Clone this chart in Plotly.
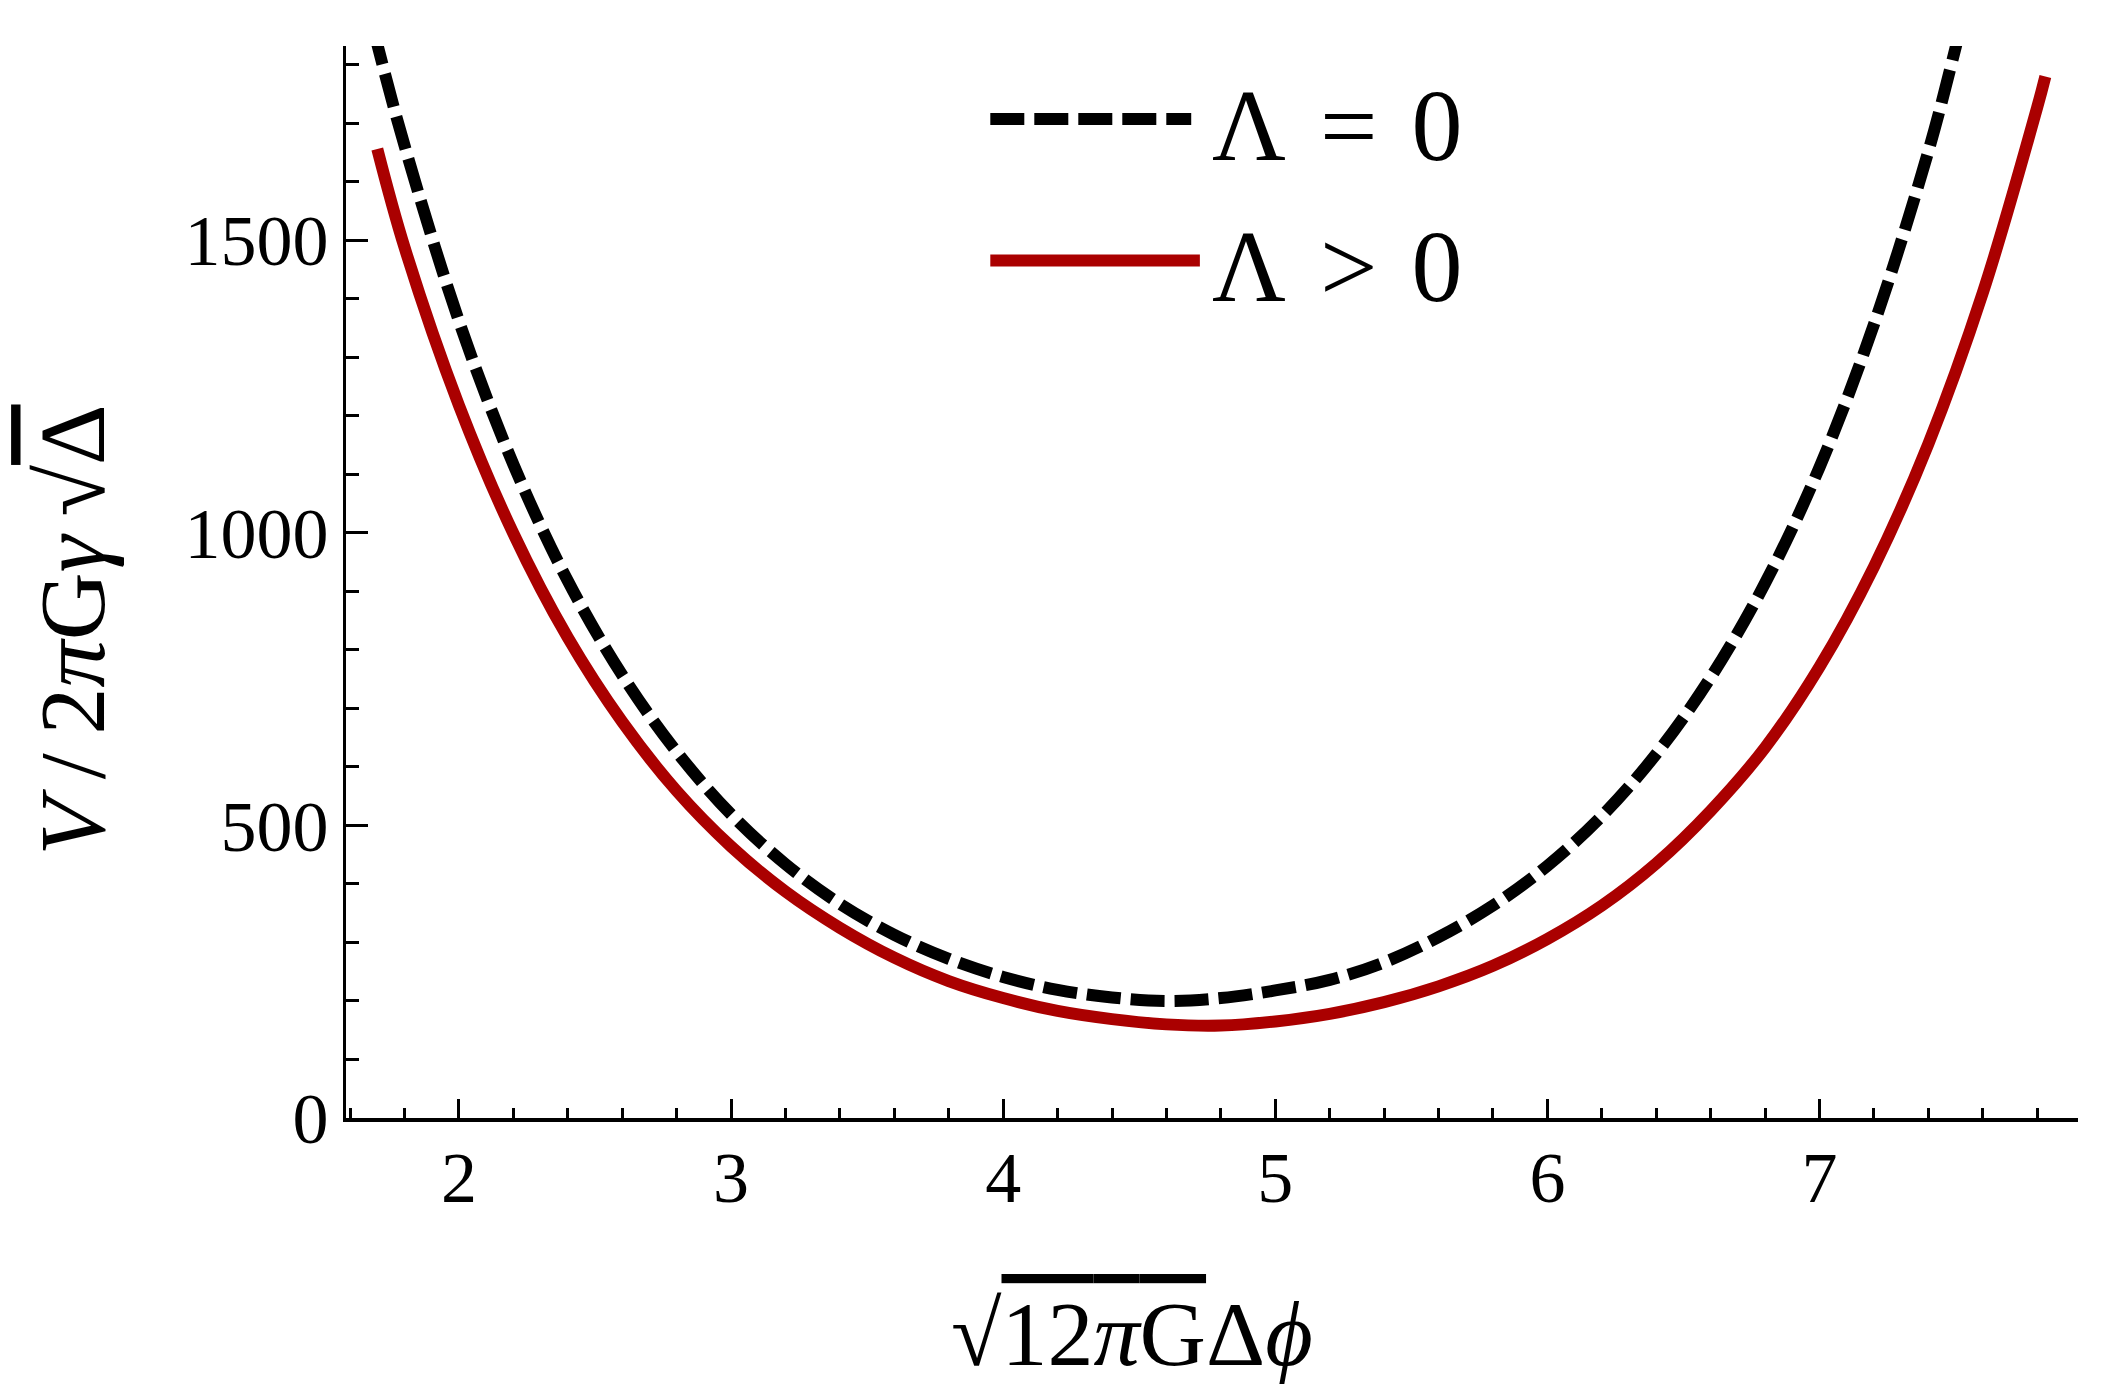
"""V / 2πGγ√Δ 대 √12πG Δϕ 곡선 (Λ = 0, Λ > 0)."""

import plotly.graph_objects as go

# Λ = 0 (dashed black)
x_zero = [1.65, 1.7, 1.8, 2.0, 2.2, 2.4, 2.6, 2.8, 3.0, 3.2, 3.4, 3.6, 3.8, 4.0,
          4.2, 4.4, 4.6, 4.8, 5.0, 5.2, 5.4, 5.6, 5.8, 6.0, 6.2, 6.4, 6.6, 6.8,
          7.0, 7.2, 7.4, 7.5, 7.55]
v_zero = [1930, 1835, 1662, 1362, 1117, 918, 757, 626, 519, 434, 366, 313, 272, 241,
          219, 206, 200, 205, 218, 236, 266, 309, 363, 431, 516, 622, 753, 914,
          1112, 1356, 1652, 1829, 1925]

# Λ > 0 (solid red)
x_pos = [1.7, 1.8, 2.0, 2.2, 2.4, 2.6, 2.8, 3.0, 3.2, 3.4, 3.6, 3.8, 4.0, 4.2,
         4.4, 4.6, 4.8, 5.0, 5.2, 5.4, 5.6, 5.8, 6.0, 6.2, 6.4, 6.6, 6.8, 7.0,
         7.2, 7.4, 7.6, 7.8, 7.83]
v_pos = [1656, 1488, 1218, 999, 821, 677, 559, 464, 387, 325, 274, 234, 205, 183,
         169, 160, 158, 165, 178, 198, 225, 260, 306, 363, 435, 525, 633, 771,
         942, 1152, 1410, 1727, 1780]

name_zero = "Λ\u2004=\u20040"
name_pos = "Λ\u2004>\u20040"

x_ticks = [2, 3, 4, 5, 6, 7]
y_ticks = [0, 500, 1000, 1500]

RED = "#aa0000"
FONT = "Liberation Serif, Times New Roman, serif"
OVER = "<span style='text-decoration:overline'>{}</span>"

fig = go.Figure()
fig.add_trace(go.Scatter(
    x=x_zero, y=v_zero, mode="lines", name=name_zero,
    line=dict(color="black", width=12, dash="34px,10px", shape="spline"),
    showlegend=False,
))
fig.add_trace(go.Scatter(
    x=x_pos, y=v_pos, mode="lines", name=name_pos,
    line=dict(color=RED, width=12, shape="spline"),
    showlegend=False,
))

axis_common = dict(
    showgrid=False, zeroline=False,
    showline=True, linecolor="black",
    ticks="inside", tickcolor="black", tickwidth=3,
    tickfont=dict(family=FONT, size=72, color="black"),
)

# page body has an 8px margin, so the margins are 8px smaller on the left/top
fig.update_layout(
    width=2119, height=1398,
    margin=dict(l=338, r=49, t=38, b=288),
    plot_bgcolor="white", paper_bgcolor="white",
    font=dict(family=FONT, color="black"),
    xaxis=dict(
        **axis_common, linewidth=4,
        range=[1.585, 7.95], tickvals=x_ticks, ticklen=19,
        ticklabelstandoff=-6,
        minor=dict(dtick=0.2, tick0=0, ticks="inside", ticklen=10,
                   tickwidth=3, tickcolor="black"),
    ),
    yaxis=dict(
        **axis_common, linewidth=3,
        range=[0, 1832], tickvals=y_ticks, ticklen=22,
        ticklabelstandoff=0,
        minor=dict(dtick=100, tick0=0, ticks="inside", ticklen=13,
                   tickwidth=3, tickcolor="black"),
    ),
)

# axis titles as annotations (the original is not centred on the axes)
fig.add_annotation(
    xref="paper", yref="paper", x=0.4538, y=-0.2015,
    xanchor="center", yanchor="middle", showarrow=False,
    text="√" + OVER.format("12<i>π</i>G") + "Δ<i>ϕ</i>",
    font=dict(family=FONT, size=92, color="black"),
)
fig.add_annotation(
    xref="paper", yref="paper", x=-0.158, y=0.455, textangle=-90,
    xanchor="center", yanchor="middle", showarrow=False,
    text="<i>V</i>\u2009/\u20092<i>π</i>G<i>γ</i>\u2009√" + OVER.format("Δ"),
    font=dict(family=FONT, size=94, color="black"),
)

# legend drawn by hand so the key lines are as long as in the original
legend_rows = [
    (name_zero, dict(color="black", width=12, dash="34px,10px"), 0.932, 0.488),
    (name_pos, dict(color=RED, width=12), 0.800, 0.493),
]
for label, line, ypos, xend in legend_rows:
    fig.add_shape(type="line", xref="paper", yref="paper",
                  x0=0.372, x1=xend, y0=ypos, y1=ypos, line=line)
    fig.add_annotation(xref="paper", yref="paper", x=0.499, y=ypos - 0.006,
                       xanchor="left", yanchor="middle", showarrow=False,
                       text=label, font=dict(family=FONT, size=102, color="black"))

fig.write_html("out.html")
